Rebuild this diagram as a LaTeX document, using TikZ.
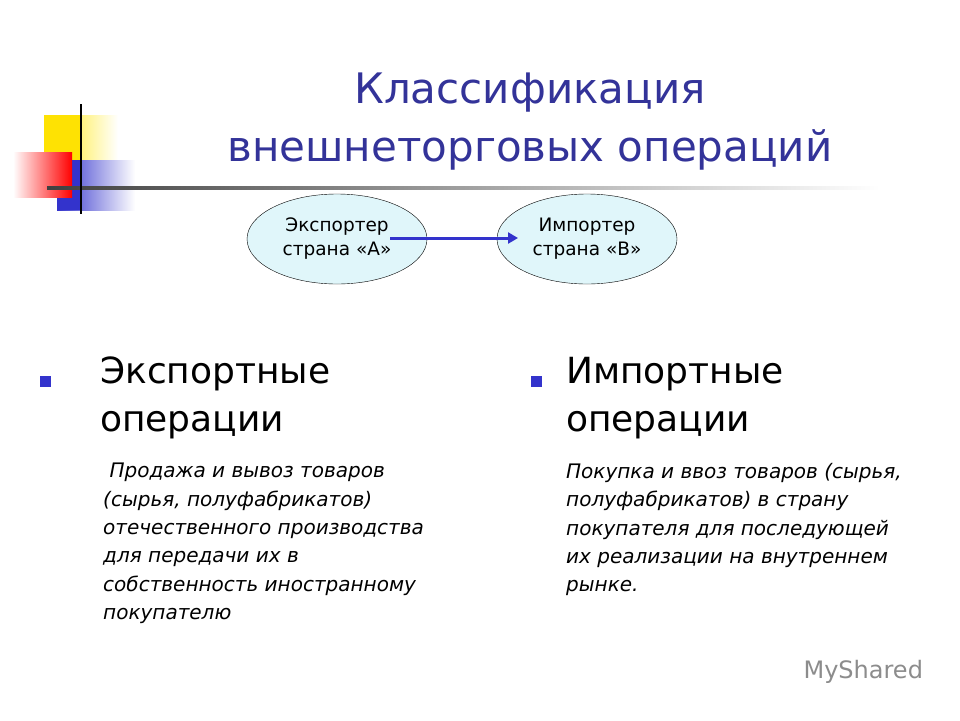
\documentclass[tikz,border=0pt]{standalone}
\usepackage{fontspec}
\setmainfont{DejaVu Sans}
\usetikzlibrary{shapes.geometric,arrows.meta}
\definecolor{ttl}{RGB}{51,51,153}
\definecolor{ebg}{RGB}{224,246,250}
\definecolor{bul}{RGB}{51,51,204}
\tikzset{
  ell/.style={ellipse,draw=black,fill=ebg,minimum width=180pt,minimum height=90pt,inner sep=0pt,align=center,font=\fontsize{18.5}{24}\selectfont},
  head/.style={anchor=north west,align=left,font=\fontsize{36}{48}\selectfont,inner sep=0pt},
  body/.style={anchor=north west,align=left,font=\fontsize{20}{28.4}\selectfont\itshape,inner sep=0pt},
  bull/.style={fill=bul,minimum size=11pt,inner sep=0pt},
}
\begin{document}
\begin{tikzpicture}[x=1pt,y=-1pt]
\useasboundingbox[fill=white] (0,0) rectangle (960,720);
% logo decoration
\shade[left color=yellow!80!orange,right color=white] (44,115) rectangle (118,160);
\fill[yellow!85!orange] (44,115) rectangle (80,160);
\shade[left color=bul,right color=white] (57,160) rectangle (135,210);
\fill[bul] (57,160) rectangle (80,210);
\shade[shading angle=45,left color=white,right color=red] (13,152) rectangle (72,197);
\shade[left color=black!75,right color=white] (47,186.5) rectangle (880,189.5);
\draw[line width=2.5pt] (81,104) -- (81,214);
% title
\node[text=ttl,font=\fontsize{42}{58}\selectfont,align=center] (title) at (530,122) {Классификация\\внешнеторговых операций};
% ellipses
\node[ell] (a) at (337,239) {Экспортер\\страна «А»};
\node[ell] (b) at (587,239) {Импортер\\страна «В»};
\coordinate (as) at (390,238);
\coordinate (ae) at (518,238);
\draw[bul,line width=3pt,-{Triangle[length=10pt,width=11pt]}] (as) -- (ae);
% left column
\node[bull] (b1) at (45,381) {};
\node[head] (h1) at (100,357) {Экспортные\\операции};
\node[body] (t1) at (103,463) {\ Продажа и вывоз товаров\\(сырья, полуфабрикатов)\\отечественного производства\\для передачи их в\\собственность иностранному\\покупателю};
% right column
\node[bull] (b2) at (536,381) {};
\node[head] (h2) at (566,357) {Импортные\\операции};
\node[body] (t2) at (566,463) {Покупка и ввоз товаров (сырья,\\полуфабрикатов) в страну\\покупателя для последующей\\их реализации на внутреннем\\рынке.};
% watermark
\node[text=black!45,font=\fontsize{24}{28}\selectfont,anchor=west] (wm) at (800,672) {MyShared};
\end{tikzpicture}
\end{document}
